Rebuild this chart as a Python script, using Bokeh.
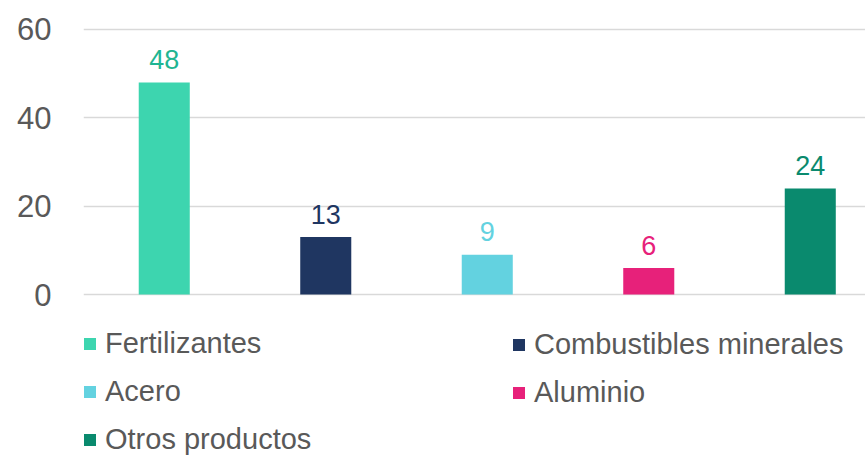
from bokeh.plotting import figure
from bokeh.models import ColumnDataSource, Range1d, Legend, LegendItem, FixedTicker
from bokeh.core.properties import value
from bokeh.embed import file_html
from bokeh.resources import INLINE

categories = ["Fertilizantes", "Combustibles minerales", "Acero", "Aluminio", "Otros productos"]
values = [48, 13, 9, 6, 24]
colors = ["#3DD5AF", "#1F3661", "#63D2E0", "#E7217A", "#0A8A6E"]
label_colors = ["#1FB592", "#1F3661", "#63D2E0", "#E7217A", "#0A8A6E"]
y_ticks = [0, 20, 40, 60]

FONT = "Liberation Sans"

# frame spans the full lower area so the legends (drawn inside it) are not clipped
p = figure(width=865, height=455, output_backend="svg", toolbar_location=None,
           x_range=Range1d(-0.5, 4.342), y_range=Range1d(-36.45, 60.45),
           min_border_left=83, min_border_right=0, min_border_top=27, min_border_bottom=0)
p.outline_line_color = None
p.xaxis.visible = False
p.xgrid.visible = False
p.ygrid.grid_line_color = "#D9D9D9"
p.ygrid.grid_line_width = 1.5
p.yaxis.ticker = FixedTicker(ticks=y_ticks)
p.yaxis.axis_line_color = None
p.yaxis.major_tick_line_color = None
p.yaxis.minor_tick_line_color = None
p.yaxis.major_label_text_font = FONT
p.yaxis.major_label_text_font_size = "31px"
p.yaxis.major_label_text_color = "#595959"
p.yaxis.major_label_standoff = 26

renderers = []
for i, (cat, v, c, lc) in enumerate(zip(categories, values, colors, label_colors)):
    src = ColumnDataSource(dict(x=[i], top=[v], label=[str(v)]))
    r = p.vbar(x="x", top="top", width=0.316, bottom=0, source=src,
               fill_color=c, line_color=None)
    p.text(x="x", y="top", text="label", source=src, text_align="center",
           text_baseline="alphabetic", y_offset=-23, text_color=lc,
           text_font=value(FONT), text_font_size="27px")
    renderers.append(r)

def make_legend(idx, loc):
    lg = Legend(items=[LegendItem(label=categories[i], renderers=[renderers[i]]) for i in idx],
                location=loc, orientation="vertical",
                glyph_width=15, glyph_height=15, label_standoff=8,
                label_text_font=FONT, label_text_font_size="29px", label_text_color="#595959",
                label_height=30, spacing=15, padding=0, margin=0,
                border_line_color=None, background_fill_alpha=0)
    return lg

p.add_layout(make_legend([0, 2, 4], (-1, -1)), "center")
p.add_layout(make_legend([1, 3], (428, 46)), "center")

open("out.html", "w").write(file_html(p, INLINE))
